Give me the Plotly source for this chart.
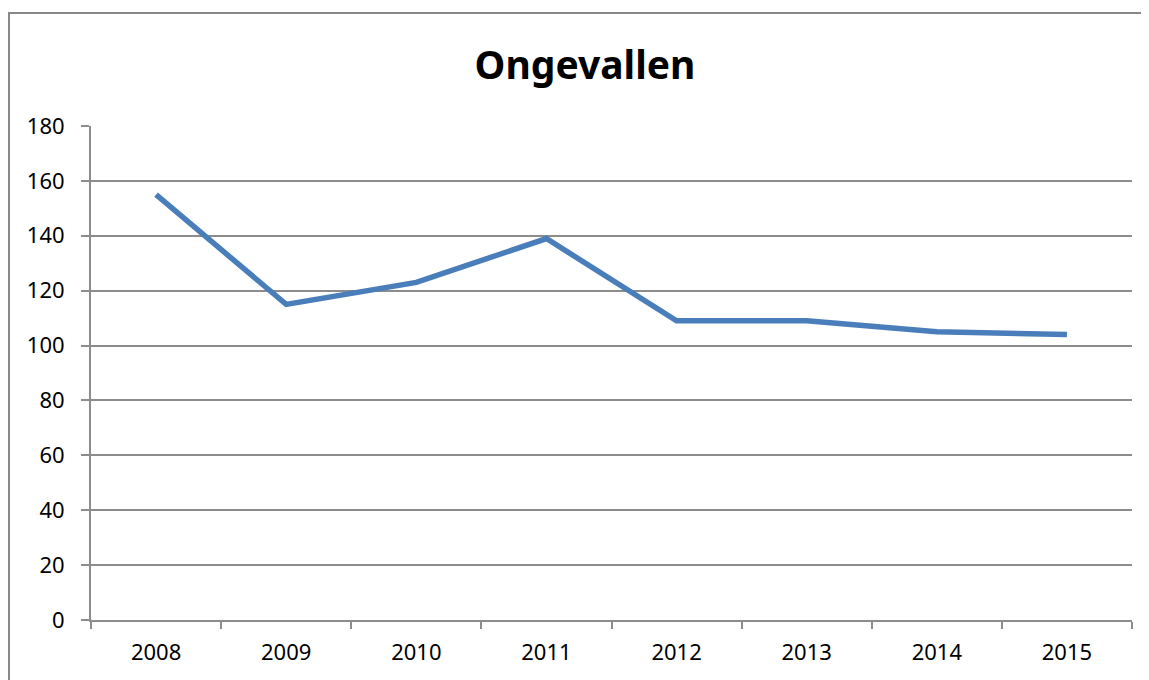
import plotly.graph_objects as go

years = ["2008", "2009", "2010", "2011", "2012", "2013", "2014", "2015"]
ongevallen = [155, 115, 123, 139, 109, 109, 105, 104]
y_ticks = [0, 20, 40, 60, 80, 100, 120, 140, 160, 180]

# page body adds an 8px offset; figure is sized so it ends at the window edge
OFF = 8
W, H = 1149 - OFF, 680 - OFF
L, R, T, B = 91 - OFF, 17, 126 - OFF, 60
pw, ph = W - L - R, H - T - B

grid = "#8c8c8c"
font = "Noto Sans, Open Sans, sans-serif"

fig = go.Figure()
fig.add_trace(go.Scatter(
    x=years, y=ongevallen, mode="lines",
    line=dict(color="#4a7ebb", width=5.5),
    showlegend=False, hoverinfo="x+y",
))

fig.update_layout(
    width=W, height=H,
    margin=dict(l=L, r=R, t=T, b=B),
    paper_bgcolor="white", plot_bgcolor="white",
    font=dict(family=font, size=22, color="black"),
    title=dict(text="<b>Ongevallen</b>", x=((585 - OFF) / W), xanchor="center",
               y=1 - (65 - OFF) / H, yanchor="middle", yref="container",
               font=dict(family=font, size=39, color="black")),
    xaxis=dict(type="category", range=[-0.5, 7.5], tickson="boundaries",
               ticks="outside", ticklen=7, tickcolor=grid, tickwidth=2,
               showline=True, linecolor=grid, linewidth=2,
               showgrid=False, zeroline=False, ticklabelstandoff=12,
               fixedrange=True),
    yaxis=dict(range=[0, 180], tickvals=y_ticks, ticks="outside", ticklen=8,
               tickcolor=grid, tickwidth=2, showline=True, linecolor=grid,
               linewidth=2, showgrid=True, gridcolor=grid, gridwidth=2,
               zeroline=False, ticklabelstandoff=12, fixedrange=True),
)

# outer chart border (page coords -> paper coords)
def px_x(x):
    return (x - OFF - L) / pw

def px_y(y):
    return (H - B - (y - OFF)) / ph

fig.add_shape(type="rect", xref="paper", yref="paper",
              x0=px_x(9), x1=px_x(1148), y0=px_y(700), y1=px_y(13),
              line=dict(color="#888888", width=2), fillcolor="rgba(0,0,0,0)",
              layer="below")

fig.write_html("out.html")
